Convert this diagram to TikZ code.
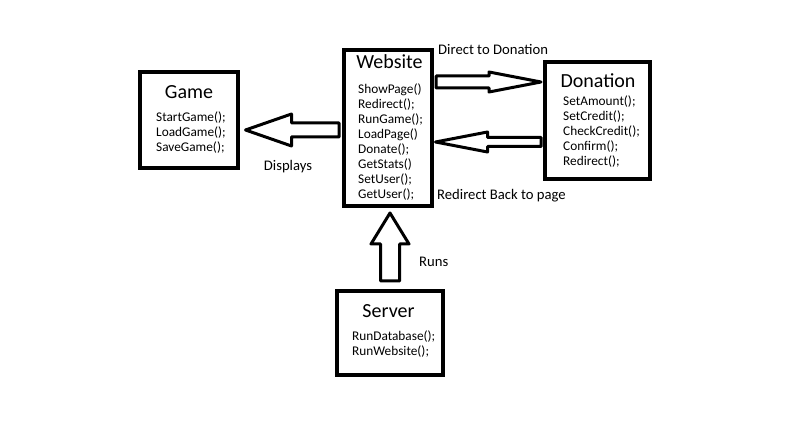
\documentclass[tikz,border=0pt]{standalone}
\usepackage{fontspec}
\setmainfont{Carlito}
\usetikzlibrary{calc}
\tikzset{
  umlbox/.style={draw, line width=4pt, rectangle, inner sep=0pt, outer sep=0pt},
  boxtitle/.style={anchor=base, inner sep=0pt, font=\fontsize{20}{24}\selectfont},
  meth/.style={anchor=base west, inner sep=0pt, font=\fontsize{13.3}{15}\selectfont},
  lbl/.style={inner sep=0pt, font=\fontsize{14.67}{17}\selectfont},
  blockarrow/.style={draw, line width=3pt, fill=white, line join=round},
}
\newcommand\blockarr[5]{%
  \path (#1) coordinate (bas) (#2) coordinate (bat);
  \path ($(bat)!#5!(bas)$) coordinate (bah);
  \draw[blockarrow]
    ($(bas)!#3!90:(bat)$) -- ($(bah)!#3!-90:(bas)$) -- ($(bah)!#4!-90:(bas)$) -- (bat)
    -- ($(bah)!#4!90:(bas)$) -- ($(bah)!#3!90:(bas)$) -- ($(bas)!#3!-90:(bat)$) -- cycle;
}
\newcommand\mlist[1]{\begin{tabular}[t]{@{}l@{}}#1\end{tabular}}
\begin{document}
\begin{tikzpicture}[x=1pt,y=-1pt]
\fill[white] (0,0) rectangle (798,435);
\useasboundingbox (0,0) rectangle (798,435);

% boxes
\node[umlbox, minimum width=98pt, minimum height=96pt] (game) at (189,120) {};
\node[umlbox, minimum width=88pt, minimum height=156pt] (web) at (388,128) {};
\node[umlbox, minimum width=105pt, minimum height=117pt] (don) at (597.5,120.5) {};
\node[umlbox, minimum width=106pt, minimum height=84pt] (srv) at (390,333) {};

% titles
\node[boxtitle] (gameT) at (189,99) {Game};
\node[boxtitle] (webT) at (389.5,69) {Website};
\node[boxtitle] (donT) at (598,87.5) {Donation};
\node[boxtitle] (srvT) at (388.5,318) {Server};

% methods
\node[meth] (gameM) at (156,122) {\mlist{StartGame();\\LoadGame();\\SaveGame();}};
\node[meth] (webM) at (358,94) {\mlist{ShowPage()\\Redirect();\\RunGame();\\LoadPage()\\Donate();\\GetStats()\\SetUser();\\GetUser();}};
\node[meth] (donM) at (563,106) {\mlist{SetAmount();\\SetCredit();\\CheckCredit();\\Confirm();\\Redirect();}};
\node[meth] (srvM) at (352,341) {\mlist{RunDatabase();\\RunWebsite();}};

% block arrows
\blockarr{$(web.west)+(-5,2)$}{$(game.east)+(7.5,10)$}{7pt}{16pt}{46pt}
\blockarr{$(web.east)+(4,-46)$}{$(don.west)+(-4,-38.5)$}{6pt}{10pt}{52pt}
\blockarr{$(don.west)+(-4,21.5)$}{$(web.east)+(3.5,14)$}{4.5pt}{10pt}{52pt}
\blockarr{$(srv.north)+(0,-10)$}{$(web.south)+(2,7)$}{9.5pt}{19pt}{31pt}

% labels
\node[lbl, anchor=base west] (l1) at (438,55) {Direct to Donation};
\node[lbl, anchor=base west] (l2) at (437,200) {Redirect Back to page};
\node[lbl, anchor=base] (l3) at (288,171) {Displays};
\node[lbl, anchor=base west] (l4) at (419,267) {Runs};
\end{tikzpicture}
\end{document}
